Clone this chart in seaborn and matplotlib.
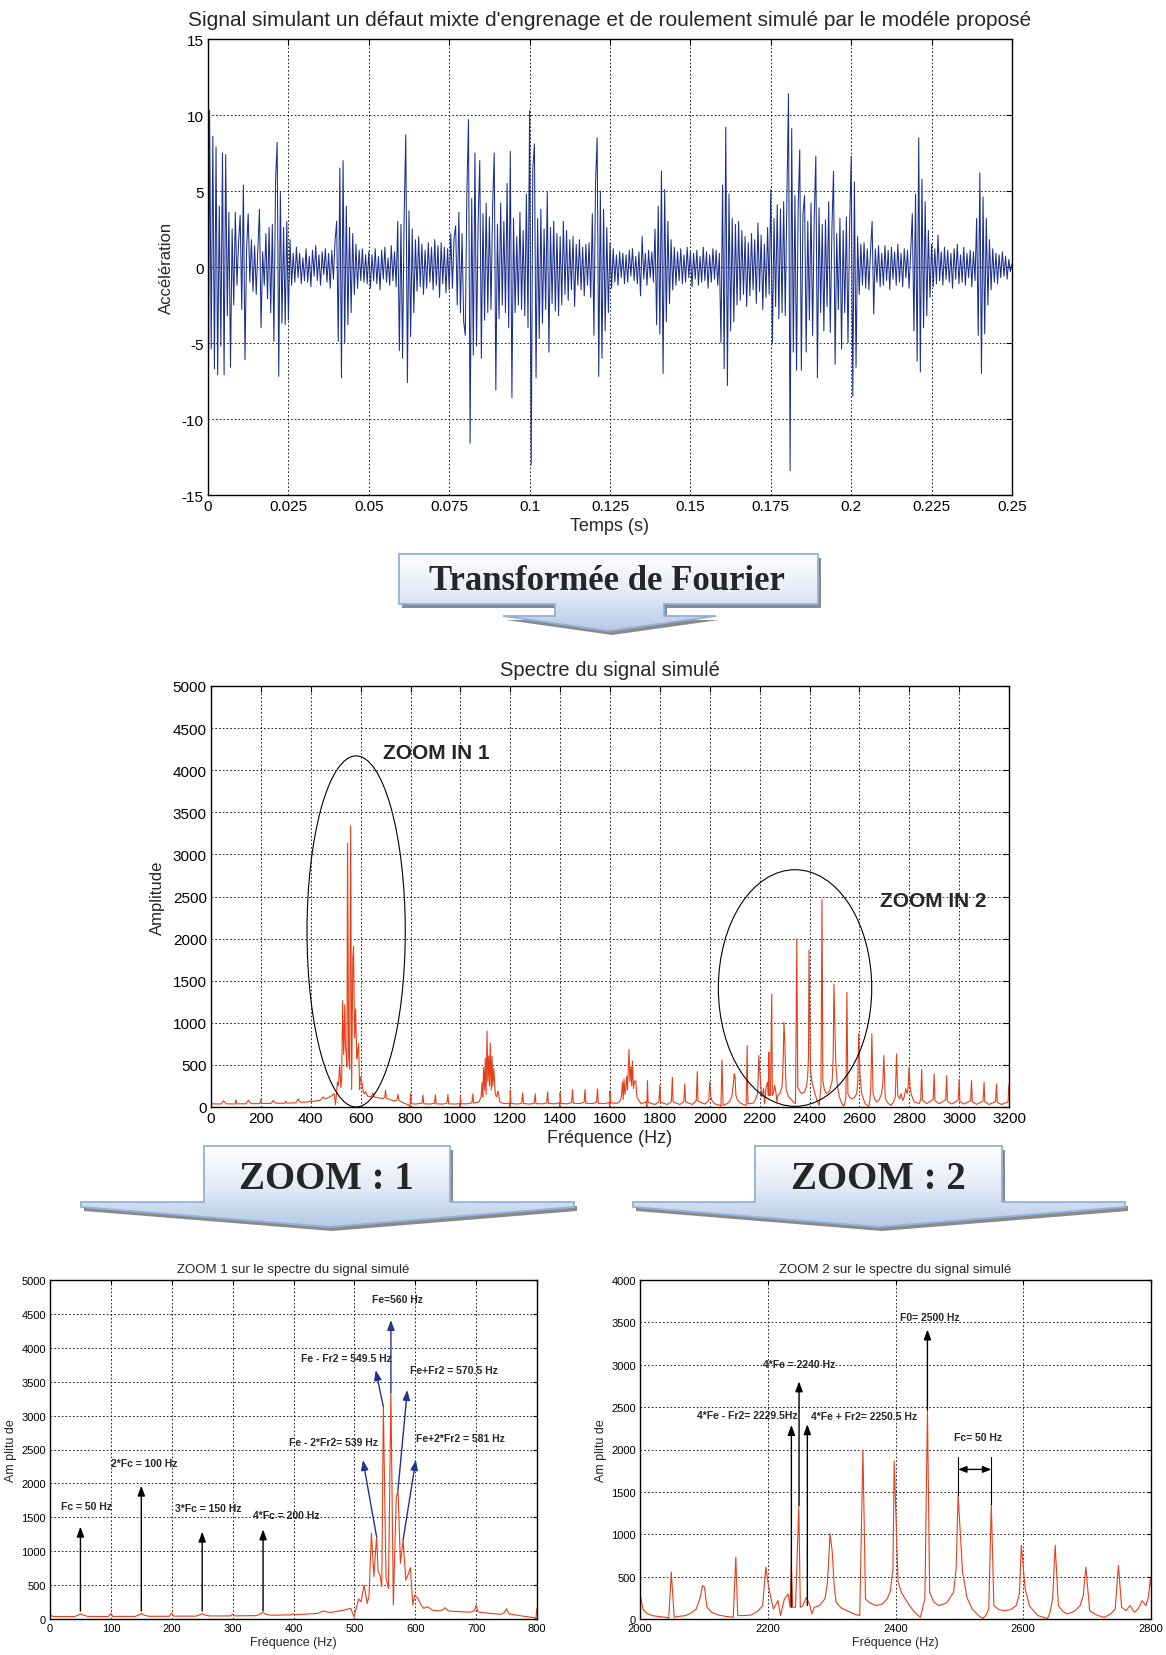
import numpy as np
import matplotlib
matplotlib.use("Agg")
import matplotlib.pyplot as plt
import seaborn as sns
from matplotlib.patches import Polygon, Ellipse
from matplotlib.colors import LinearSegmentedColormap

# ------------------------------------------------------------------ data
signal_dt = 0.0005
signal_values = [
    -14.5, 10.3, -5.4, 8.6, -6.7, 7.9, -7.1, 4.0, -5.2, 7.5, -7.1, 7.4, -3.2, 3.6, -6.6, 2.5, -2.5, 3.6, -1.2, 1.6,
    3.4, -2.8, 5.4, -6.1, 1.2, 3.5, -1.0, 1.8, -1.6, 1.4, -1.8, 1.2, 3.8, -4.0, 1.0, -1.2, 2.2, -2.1, 2.6, -3.0,
    2.8, -4.9, 5.6, 8.2, -7.2, 4.9, -3.7, 2.6, -3.8, 3.0, -3.5, 1.8, -1.2, 0.9, -1.0, 1.3, -0.7, 0.9, -1.1, 0.6,
    -0.9, 1.2, -1.0, 0.7, -1.3, 1.1, -0.6, 1.4, -0.9, 0.8, -1.2, 1.0, -0.5, 1.2, -1.0, 0.9, -1.4, 1.1, -0.8, 1.7,
    3.0, -4.9, 6.5, -7.3, 7.0, -5.0, 4.0, -3.8, 2.6, -3.0, 2.2, -1.8, 1.5, -1.4, 1.1, -0.9, 1.2, -1.0, 0.8, -1.1,
    1.0, -1.4, 0.8, -0.9, 1.2, -1.1, 0.7, -1.5, 1.1, -0.8, 1.3, -1.0, 0.6, -1.2, 1.4, -0.9, 1.0, -1.3, 3.0, -5.5,
    2.8, -6.0, 3.5, 8.7, -7.6, 3.7, -4.6, 2.5, -3.0, 1.8, -1.6, 2.0, -1.3, 1.5, -1.8, 1.1, -1.4, 1.6, -1.0, 1.3,
    -1.5, 1.8, -1.2, 1.4, -2.0, 1.6, -1.1, 1.3, -1.7, 1.2, -1.5, 2.2, -1.4, 1.9, 2.7, -2.5, 3.6, -3.0, 2.2, -3.6,
    -4.5, 5.0, 9.7, -11.6, 4.5, -5.8, 7.5, -5.2, 3.0, 7.0, -6.0, 3.5, -3.5, 4.2, -3.0, 3.3, -2.8, 4.0, 7.5, -8.1,
    2.8, -3.4, 4.2, -2.5, 3.0, -3.0, 5.5, -4.0, 7.6, -8.6, 3.2, -3.0, 2.0, -2.5, 3.6, -2.8, 2.4, -3.2, 4.8, -4.0,
    10.3, -13.0, 6.5, 8.1, -7.3, 3.2, -4.7, 3.8, -3.7, 2.5, -2.8, 4.9, -5.6, 2.6, -2.4, 3.0, -2.9, 2.2, -3.2, 2.0,
    -2.5, 3.0, -1.8, 2.4, -2.2, 1.8, -1.5, 2.0, -2.6, 1.5, -1.2, 1.8, -1.5, 1.3, -1.9, 1.5, -1.2, 1.6, -2.0, 3.5,
    -4.5, 5.5, 8.5, -7.2, 5.0, -6.0, 3.8, -4.2, 2.6, -3.0, 1.6, -1.4, 1.2, -1.0, 0.8, -1.2, 1.0, -0.7, 0.9, -1.1,
    0.8, -1.0, 1.1, -0.6, 1.2, -0.9, 0.7, -1.1, 1.0, -1.9, 2.0, -0.8, 0.9, -1.2, 1.1, -0.7, 1.0, -1.0, 2.5, -3.8,
    4.0, -4.4, 6.3, -7.0, 5.1, -3.6, 3.0, -2.4, 1.8, -1.5, 1.3, -1.2, 1.0, -0.9, 1.2, -1.1, 0.8, -1.0, 1.3, -0.7,
    1.0, -1.3, 0.9, -0.8, 1.1, -1.2, 0.7, -1.0, 1.3, -0.9, 1.0, -1.4, 0.8, -1.0, 1.2, -0.8, 1.1, -1.2, 0.9, -5.0,
    5.4, -6.7, 9.2, -7.8, 4.8, -4.2, 3.2, -3.6, 2.8, -2.5, 3.0, -2.2, 2.4, -1.8, 2.0, -2.6, 1.6, -1.9, 2.2, -1.5,
    1.8, -2.4, 2.9, -1.6, 2.1, -2.8, 1.5, -2.0, 2.6, -1.8, 5.1, -5.0, 3.2, -2.6, 4.1, -3.4, 3.8, -3.0, 4.3, -3.2,
    4.5, 11.4, -13.4, 9.1, -5.6, 4.7, -6.8, 3.8, 7.7, -6.8, 3.5, 4.7, -5.6, 3.0, -3.5, 4.2, -4.5, 3.2, 7.3, -7.3,
    3.9, -3.0, 2.8, -4.2, 3.1, -2.6, 4.3, -4.3, 2.5, 6.3, -6.4, 2.2, -2.8, 3.2, -5.4, 2.4, -3.0, 3.3, -5.0, 2.6,
    7.3, -8.5, 5.6, -6.6, 2.0, -1.8, 1.5, -1.2, 1.6, -1.4, 1.2, -1.5, 1.0, 3.0, -3.1, 1.2, -1.0, 1.4, -1.3, 0.9,
    -1.2, 1.4, -0.9, 1.1, -1.5, 1.3, -0.8, 1.0, -1.2, 1.5, -1.0, 0.9, -1.3, 1.2, -0.7, 1.1, -1.4, 1.0, 3.5, -4.2,
    4.8, -6.2, 8.5, -6.9, 5.8, -4.0, 4.3, -3.2, 2.4, -2.0, 1.5, -1.3, 1.2, -1.1, 2.1, -0.9, 1.0, -1.2, 1.3, -0.8,
    1.1, -1.0, 0.9, -1.4, 1.2, -0.8, 1.5, -1.1, 0.8, -1.0, 1.3, -1.2, 0.9, -0.7, 1.1, -1.3, 1.0, -0.9, 3.2, -4.5,
    6.2, -7.0, 4.6, -4.4, 3.2, -2.5, 1.8, -1.5, 1.2, -1.0, 0.9, -1.1, 0.8, -0.7, 1.0, -0.6, 0.7, -0.8, 0.5, -0.3,
    0.2,
]

# spectrum points (frequency Hz, amplitude), split by band
spec_low = [(0, 70), (4, 38), (40, 35), (46, 55), (50, 75), (54, 60), (62, 38), (96, 36), (100, 85), (103, 38),
            (140, 38), (146, 62), (150, 80), (154, 60), (162, 40), (196, 40), (200, 88), (203, 42), (240, 42),
            (246, 62), (250, 78), (254, 60), (262, 45), (296, 45), (300, 70), (303, 46), (340, 50), (346, 78),
            (350, 96), (354, 72), (362, 55), (396, 62), (400, 78), (403, 64), (440, 82), (446, 108), (450, 120),
            (454, 104), (462, 98), (485, 135), (494, 158), (499.5, 30)]
spec_fe = [(503, 160), (507, 295), (511, 255), (516, 500), (521, 230), (524, 330), (528, 1264), (532, 624),
           (536.5, 1214), (539, 700), (542, 650), (545, 477), (547.6, 3132), (552, 600), (556, 450), (560, 3340),
           (564, 206), (568.7, 1780), (571.6, 1903), (575.7, 821), (580, 1165), (584.5, 575), (588, 650),
           (592, 757), (596, 206), (599, 354), (605, 295), (610, 200), (614, 157), (620, 182), (628, 130),
           (640, 120), (645, 135), (649, 167), (654, 120)]
spec_mid = [(660, 115), (690, 100), (697, 120), (700, 200), (703, 105), (720, 85), (740, 70), (746, 90), (750, 150),
            (754, 75), (775, 45), (795, 20), (798, 5), (800, 160), (803, 40), (820, 35), (846, 45), (850, 140),
            (853, 38), (880, 35), (896, 45), (900, 144), (903, 38), (930, 35), (946, 45), (950, 148), (953, 38),
            (980, 35), (996, 40), (999, 0), (1000, 124), (1003, 38), (1030, 38), (1046, 50), (1050, 156),
            (1053, 45)]
spec_2fe = [(1075, 60), (1083, 120), (1087, 288), (1090, 120), (1093, 468), (1097, 200), (1100, 580), (1103, 150),
            (1107, 900), (1110, 300), (1114, 608), (1117, 250), (1120, 760), (1124, 200), (1127, 600), (1130, 250),
            (1134, 456), (1140, 150), (1145, 120), (1151, 188), (1158, 60), (1175, 40)]
spec_mid2 = [(1196, 45), (1199, 0), (1200, 196), (1203, 42), (1230, 35), (1246, 45), (1250, 168), (1253, 40),
             (1280, 35), (1296, 45), (1300, 156), (1303, 40), (1330, 38), (1346, 48), (1350, 180), (1353, 42),
             (1380, 38), (1396, 50), (1399, 0), (1400, 168), (1403, 42), (1430, 38), (1446, 55), (1450, 208),
             (1453, 45), (1480, 40), (1496, 55), (1500, 208), (1503, 45), (1530, 40), (1546, 58), (1550, 216),
             (1553, 45), (1580, 40), (1596, 55), (1599, 0), (1600, 190), (1603, 50), (1620, 45)]
spec_3fe = [(1630, 45), (1640, 70), (1645, 110), (1650, 300), (1653, 90), (1656, 333), (1660, 150), (1664, 250),
            (1667, 365), (1670, 200), (1673, 450), (1676, 683), (1680, 300), (1684, 480), (1687, 250), (1690, 544),
            (1694, 220), (1698, 300), (1703, 313), (1708, 120), (1715, 80), (1725, 40)]
spec_rise = [(1745, 60), (1748, 0), (1750, 313), (1753, 55), (1780, 30), (1796, 60), (1800, 258), (1803, 55),
             (1830, 30), (1846, 65), (1850, 353), (1853, 60), (1880, 30), (1896, 65), (1900, 274), (1903, 60),
             (1930, 30), (1946, 75), (1950, 420), (1953, 70), (1980, 35), (1996, 75), (2000, 300)]
spec_4fe = [(2004.6, 118), (2010, 70), (2019, 40), (2030, 28), (2042, 20), (2045, 8), (2049, 553), (2053.5, 20),
            (2060, 30), (2071, 40), (2080, 70), (2088, 118), (2094, 250), (2098, 395), (2101, 375), (2103, 250),
            (2105, 138), (2112, 80), (2123, 47), (2135, 30), (2146, 20), (2150, 730), (2153, 40), (2162, 40),
            (2174, 47), (2184, 90), (2192, 158), (2197, 612), (2200, 450), (2203, 316), (2209, 118), (2216, 217),
            (2220, 40), (2226, 237), (2232, 296), (2235, 138), (2237, 651), (2239, 138), (2243.5, 138),
            (2248.6, 1342), (2251, 138), (2255, 158), (2260.6, 257), (2266, 158), (2269, 59), (2273, 138),
            (2281, 158), (2289.5, 237), (2293, 400), (2295, 632), (2297.5, 1007), (2301, 790), (2304, 400),
            (2307, 197), (2315, 130), (2324, 99), (2335, 60), (2344, 40), (2349, 1994), (2353, 237), (2360, 190),
            (2370, 158), (2380, 180), (2387, 237), (2392, 330), (2396, 592), (2398, 1864), (2404, 434), (2410, 300),
            (2422, 158), (2430, 80), (2439, 20), (2446, 237), (2450, 2468), (2453.5, 316), (2460, 200), (2468, 158),
            (2480, 190), (2491, 316), (2495, 600), (2498, 1461), (2505, 553), (2512, 250), (2520, 118), (2530, 40),
            (2537, 8), (2542, 50), (2546, 118), (2550, 1362), (2554, 158), (2562, 110), (2571, 99), (2580, 110),
            (2589, 158), (2594, 300), (2597, 869), (2603, 355), (2610, 150), (2623, 40), (2638, 5), (2642, 80),
            (2646, 237), (2650, 869), (2655, 158), (2662, 90), (2669, 59), (2680, 90), (2689, 158), (2694, 280),
            (2698, 612), (2704, 99), (2715, 45), (2727, 20), (2737, 60), (2744, 118), (2749, 632), (2754, 138),
            (2761, 99), (2767, 158), (2774, 79), (2780, 120), (2786, 217), (2792, 158), (2796, 257), (2799, 474)]
spec_high = [(2803, 250), (2808, 150), (2820, 60), (2840, 40), (2846, 90), (2850, 444), (2853, 80), (2870, 40),
             (2896, 90), (2900, 393), (2903, 75), (2920, 38), (2946, 85), (2950, 373), (2953, 70), (2970, 35),
             (2996, 80), (3000, 325), (3003, 65), (3020, 35), (3046, 75), (3050, 313), (3053, 60), (3070, 32),
             (3096, 70), (3100, 294), (3103, 60), (3120, 30), (3146, 65), (3150, 274), (3153, 55), (3170, 30),
             (3196, 60), (3200, 266)]

top_xticks = [0, 0.025, 0.05, 0.075, 0.1, 0.125, 0.15, 0.175, 0.2, 0.225, 0.25]
top_xticklabels = ["0", "0.025", "0.05", "0.075", "0.1", "0.125", "0.15", "0.175", "0.2", "0.225", "0.25"]
top_yticks = [-15, -10, -5, 0, 5, 10, 15]

# annotations: (x_start, y_start, x_tip, y_tip, label, label_x, label_y)
zoom1_black = [(50, 118, 50, 1362, "Fc = 50 Hz", 18, 1667),
               (150, 118, 150, 1967, "2*Fc = 100 Hz", 101, 2296),
               (250, 118, 250, 1288, "3*Fc = 150 Hz", 205, 1642),
               (350, 118, 350, 1322, "4*Fc = 200 Hz", 333, 1534)]
zoom1_blue = [(536.5, 1214, 514, 2345, "Fe - 2*Fr2= 539 Hz", 393, 2615),
              (547.6, 3132, 535, 3672, "Fe - Fr2 = 549.5 Hz", 413, 3854),
              (560, 3340, 560, 4410, "Fe=560 Hz", 529, 4715),
              (571.6, 1903, 587, 3378, "Fe+Fr2 = 570.5 Hz", 591, 3673),
              (580, 1165, 601, 2345, "Fe+2*Fr2 = 581 Hz", 602, 2675)]
zoom2_black = [(2237, 140, 2237, 2290, "4*Fe - Fr2= 2229.5Hz", 2089, 2409),
               (2249, 1342, 2249, 2804, "4*Fe = 2240 Hz", 2193, 3009),
               (2262, 160, 2262, 2298, "4*Fe + Fr2= 2250.5 Hz", 2268, 2401),
               (2450, 2468, 2450, 3416, "F0= 2500 Hz", 2407, 3566)]

# ------------------------------------------------------------------ style
sns.set_style("white")
plt.rcParams["font.family"] = ["Liberation Sans Narrow", "Liberation Sans", "DejaVu Sans"]
plt.rcParams["axes.unicode_minus"] = False

W, H = 1166, 1656
BLUE = "#1b2f8e"
RED = "#e5401a"
ARROW_BLUE = "#23338f"
WIDE = ["Liberation Sans", "DejaVu Sans"]
NARROW = ["Liberation Sans Narrow", "Liberation Sans", "DejaVu Sans"]
SERIF = ["Liberation Serif", "DejaVu Serif"]

fig = plt.figure(figsize=(W / 100, H / 100), dpi=100)


def box(l, t, r, b):
    return [l / W, 1 - b / H, (r - l) / W, (b - t) / H]


def matlab(ax, fs):
    ax.tick_params(direction="in", top=True, right=True, length=4, width=0.8,
                   labelsize=fs, pad=3, colors="k")
    for s in ax.spines.values():
        s.set_visible(True)
        s.set_color("k")
        s.set_linewidth(1.0)
    ax.grid(True, color="k", linestyle=(0, (2, 2.5)), linewidth=0.6)
    ax.set_axisbelow(True)


# ---- top: time signal
t = np.arange(len(signal_values)) * signal_dt
ax1 = fig.add_axes(box(208, 40, 1012, 496))
sns.lineplot(x=t, y=signal_values, ax=ax1, color=BLUE, linewidth=0.75,
             estimator=None, sort=False)
ax1.set_xlim(0, 0.25)
ax1.set_ylim(-15, 15)
ax1.set_xticks(top_xticks)
ax1.set_xticklabels(top_xticklabels)
ax1.set_yticks(top_yticks)
ax1.set_yticklabels([str(v) for v in top_yticks])
matlab(ax1, 11)
ax1.set_title("Signal simulant un défaut mixte d'engrenage et de roulement simulé par le modéle proposé",
              fontsize=15, pad=10)
ax1.set_xlabel("Temps (s)", fontsize=13, labelpad=3)
ax1.set_ylabel("Accélération", fontsize=12, family=WIDE, labelpad=6)

# ---- spectrum data assembled
segments = [spec_low, spec_fe, spec_mid, spec_2fe, spec_mid2, spec_3fe, spec_rise, spec_4fe, spec_high]
freq = np.array([p[0] for seg in segments for p in seg], float)
amp = np.array([p[1] for seg in segments for p in seg], float)

# ---- middle: full spectrum
ax2 = fig.add_axes(box(211, 687, 1009, 1108))
sns.lineplot(x=freq, y=amp, ax=ax2, color=RED, linewidth=0.8, estimator=None, sort=False)
ax2.set_xlim(0, 3200)
ax2.set_ylim(0, 5000)
ax2.set_xticks(np.arange(0, 3201, 200))
ax2.set_yticks(np.arange(0, 5001, 500))
matlab(ax2, 11)
ax2.set_title("Spectre du signal simulé", fontsize=14.5, pad=8)
ax2.set_xlabel("Fréquence (Hz)", fontsize=13, labelpad=3)
ax2.set_ylabel("Amplitude", fontsize=12, family=WIDE, labelpad=6)
ax2.add_patch(Ellipse((582, 2085), 394, 4170, fill=False, ec="k", lw=0.8, zorder=5))
ax2.add_patch(Ellipse((2342, 1413), 615, 2810, fill=False, ec="k", lw=0.8, zorder=5))
ax2.text(690, 4210, "ZOOM IN 1", fontsize=15, fontweight="bold", family=NARROW, ha="left", va="center")
ax2.text(2682, 2455, "ZOOM IN 2", fontsize=15, fontweight="bold", family=NARROW, ha="left", va="center")

# ---- bottom-left: zoom 1
ax3 = fig.add_axes(box(50, 1281, 537, 1620))
sns.lineplot(x=freq, y=amp, ax=ax3, color=RED, linewidth=0.8, estimator=None, sort=False)
ax3.set_xlim(0, 800)
ax3.set_ylim(0, 5000)
ax3.set_xticks(np.arange(0, 801, 100))
ax3.set_yticks(np.arange(0, 5001, 500))
matlab(ax3, 8)
ax3.tick_params(length=3)
ax3.set_title("ZOOM 1 sur le spectre du signal simulé", fontsize=9.5, pad=6)
ax3.set_xlabel("Fréquence (Hz)", fontsize=9, labelpad=2)
ax3.set_ylabel("Am plitu de", fontsize=9, family=WIDE, labelpad=3)
for xs, ys, xt, yt, lab, lx, ly in zoom1_black:
    ax3.annotate("", xy=(xt, yt), xytext=(xs, ys),
                 arrowprops=dict(arrowstyle="-|>,head_length=0.6,head_width=0.22", color="k", lw=1.0,
                                 shrinkA=0, shrinkB=0))
    ax3.text(lx, ly, lab, fontsize=7.5, fontweight="bold", family=NARROW, ha="left", va="center")
for xs, ys, xt, yt, lab, lx, ly in zoom1_blue:
    ax3.annotate("", xy=(xt, yt), xytext=(xs, ys),
                 arrowprops=dict(arrowstyle="-|>,head_length=0.6,head_width=0.22", color=ARROW_BLUE, lw=1.0,
                                 shrinkA=0, shrinkB=0))
    ax3.text(lx, ly, lab, fontsize=7.5, fontweight="bold", family=NARROW, ha="left", va="center")

# ---- bottom-right: zoom 2
ax4 = fig.add_axes(box(640, 1281, 1151, 1620))
sns.lineplot(x=freq, y=amp, ax=ax4, color=RED, linewidth=0.8, estimator=None, sort=False)
ax4.set_xlim(2000, 2800)
ax4.set_ylim(0, 4000)
ax4.set_xticks(np.arange(2000, 2801, 200))
ax4.set_yticks(np.arange(0, 4001, 500))
matlab(ax4, 8)
ax4.tick_params(length=3)
ax4.set_title("ZOOM 2 sur le spectre du signal simulé", fontsize=9.5, pad=6)
ax4.set_xlabel("Fréquence (Hz)", fontsize=9, labelpad=2)
ax4.set_ylabel("Am plitu de", fontsize=9, family=WIDE, labelpad=3)
for xs, ys, xt, yt, lab, lx, ly in zoom2_black:
    ax4.annotate("", xy=(xt, yt), xytext=(xs, ys),
                 arrowprops=dict(arrowstyle="-|>,head_length=0.6,head_width=0.22", color="k", lw=1.0,
                                 shrinkA=0, shrinkB=0))
    ax4.text(lx, ly, lab, fontsize=7.5, fontweight="bold", family=NARROW, ha="left", va="center")
ax4.plot([2498, 2498], [1461, 1915], color="k", lw=0.8)
ax4.plot([2550, 2550], [1362, 1915], color="k", lw=0.8)
ax4.annotate("", xy=(2550, 1765), xytext=(2498, 1765),
             arrowprops=dict(arrowstyle="<|-|>,head_length=0.5,head_width=0.2", color="k", lw=1.0,
                             shrinkA=0, shrinkB=0))
ax4.text(2492, 2152, "Fc= 50 Hz", fontsize=7.5, fontweight="bold", family=NARROW, ha="left", va="center")

# ---- banners (overlay in pixel coordinates)
ov = fig.add_axes([0, 0, 1, 1], zorder=10)
ov.set_facecolor("none")
ov.axis("off")
cmap = LinearSegmentedColormap.from_list("banner", ["#ffffff", "#e4ecf7", "#b4c9e6"])


def banner(verts, label, cx, cy, fs):
    v = np.array(verts, float)
    ov.add_patch(Polygon(v + [3, 4], closed=True, fc="#8a8a8a", ec="none", zorder=1))
    poly = Polygon(v, closed=True, fc="none", ec="#93b1d9", lw=1.3, zorder=3)
    ov.add_patch(poly)
    x0, x1 = v[:, 0].min(), v[:, 0].max()
    y0, y1 = v[:, 1].min(), v[:, 1].max()
    im = ov.imshow(np.linspace(0, 1, 256).reshape(-1, 1), cmap=cmap, extent=(x0, x1, y1, y0),
                   aspect="auto", zorder=2, interpolation="bilinear")
    im.set_clip_path(poly)
    ov.text(cx, cy, label, fontsize=fs, fontweight="bold", family=SERIF, ha="center", va="center", zorder=4)


banner([(399, 555), (818, 555), (818, 605), (664, 605), (664, 617), (716, 617), (609, 632),
        (503, 617), (555, 617), (555, 605), (399, 605)], "Transformée de Fourier", 607, 582, 25)
banner([(204, 1147), (450, 1147), (450, 1203), (574, 1203), (574, 1208), (329, 1228), (81, 1208),
        (81, 1203), (204, 1203)], "ZOOM : 1", 326, 1180, 28)
banner([(755, 1147), (1002, 1147), (1002, 1203), (1125, 1203), (1125, 1208), (879, 1228), (633, 1208),
        (633, 1203), (755, 1203)], "ZOOM : 2", 878, 1180, 28)
ov.set_xlim(0, W)
ov.set_ylim(H, 0)

fig.savefig("out.png", dpi=100)
